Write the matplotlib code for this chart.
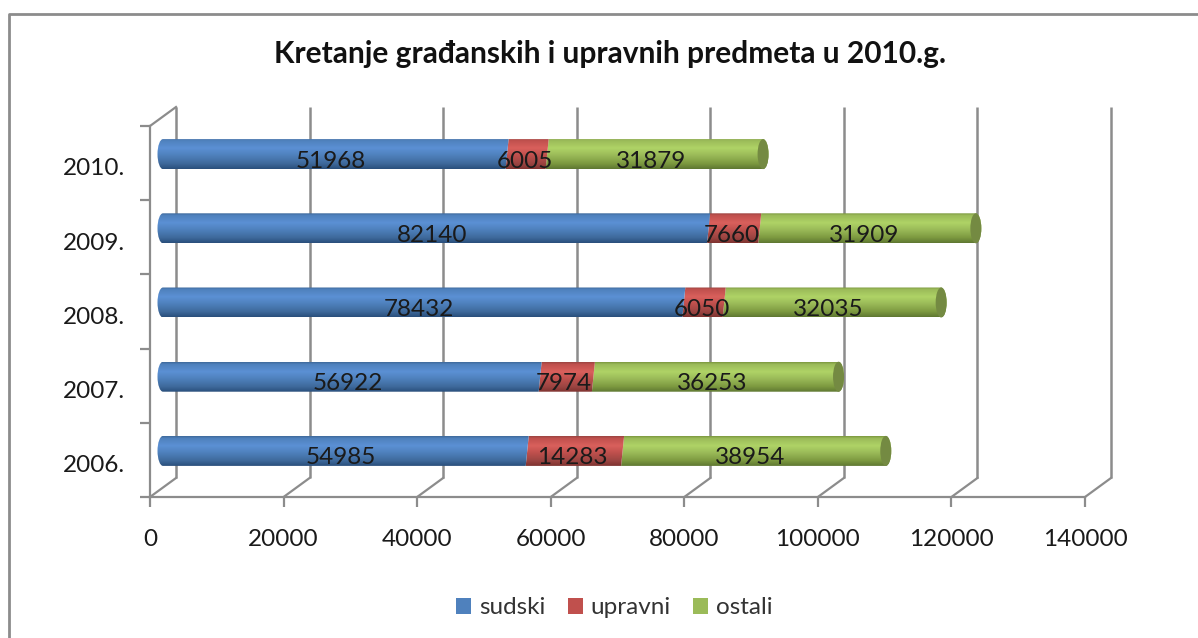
import numpy as np
import matplotlib
matplotlib.use("Agg")
import matplotlib.pyplot as plt
from matplotlib.path import Path
from matplotlib.patches import PathPatch, Ellipse, Rectangle
from matplotlib.lines import Line2D
from matplotlib.colors import LinearSegmentedColormap

years = ["2006.", "2007.", "2008.", "2009.", "2010."]
sudski = [54985, 56922, 78432, 82140, 51968]
upravni = [14283, 7974, 6050, 7660, 6005]
ostali = [38954, 36253, 32035, 31909, 31879]
series_names = ["sudski", "upravni", "ostali"]
x_ticks = [0, 20000, 40000, 60000, 80000, 100000, 120000, 140000]
title = "Kretanje građanskih i upravnih predmeta u 2010.g."

FONT = "Lato"
W, H = 1198, 638
fig = plt.figure(figsize=(W / 100, H / 100), dpi=100, facecolor="white")
plt.rcParams["font.family"] = FONT


def rect(l, t, r, b):
    return [l / W, 1 - b / H, (r - l) / W, (b - t) / H]


GRID = "#8c8c8c"
TXT = "#1a1a1a"
XMAX = 140000
# front plane
ax = fig.add_axes(rect(150, 126, 1085, 497))
ax.set_xlim(0, XMAX)
ax.set_ylim(0, 5)
ax.patch.set_alpha(0)
for s in ["top", "right"]:
    ax.spines[s].set_visible(False)
for s in ["left", "bottom"]:
    ax.spines[s].set_color(GRID)
    ax.spines[s].set_linewidth(1.6)
ax.set_xticks(x_ticks)
ax.set_xticklabels([str(v) for v in x_ticks], fontsize=17.5, color=TXT)
ax.set_yticks(range(6))
ax.set_yticklabels([])
ax.set_yticks(np.arange(5) + 0.45, labels=years, minor=True, fontsize=17.5, color=TXT)
ax.tick_params(axis="both", which="major", length=7, width=1.6, color=GRID)
ax.tick_params(axis="y", which="minor", length=0, pad=18)
ax.tick_params(axis="x", pad=16)

# back wall, shifted by the depth of the 3-D box
back = fig.add_axes(rect(176, 107, 1111, 478), zorder=-1)
back.set_xlim(0, XMAX)
back.set_ylim(0, 5)
back.axis("off")
for v in x_ticks:
    back.plot([v, v], [0, 5], color=GRID, lw=1.8, clip_on=False, solid_capstyle="butt")
# depth lines joining the front plane to the back wall
for v in x_ticks:
    p0 = ax.transData.transform((v, 0))
    p1 = back.transData.transform((v, 0))
    fig.add_artist(Line2D([p0[0] / W, p1[0] / W], [p0[1] / H, p1[1] / H], color=GRID, lw=1.6, zorder=-1))
p0 = ax.transData.transform((0, 5))
p1 = back.transData.transform((0, 5))
fig.add_artist(Line2D([p0[0] / W, p1[0] / W], [p0[1] / H, p1[1] / H], color=GRID, lw=1.6, zorder=-1))

# mid plane, holds the cylinders
mid = fig.add_axes(rect(163, 117, 1098, 488), zorder=3)
mid.set_xlim(0, XMAX)
mid.set_ylim(0, 5)
mid.axis("off")

PX = XMAX / 935
BAR_H = 30 / (371 / 5)
RX = 5.5 * PX
SLANT_TOP = 1.5 * PX
SLANT_BOT = 4.5 * PX
STYLES = {
    "sudski": ("#3f6a9c", "#4f81bd", "#5b90d4", "#2a4f7c", "#3f6797"),
    "upravni": ("#9c4542", "#c0504d", "#d9605c", "#7f3330", "#984340"),
    "ostali": ("#7d9a40", "#9bbb59", "#afd366", "#5f7832", "#748a42"),
}
K = 0.5522847


def cylinder_path(x0, x1, yc, first, last):
    t, b = yc + BAR_H / 2, yc - BAR_H / 2
    ry = BAR_H / 2
    # inner joints lean slightly, following the curve of the cylinder
    x0b, x0t = (x0, x0) if first else (x0 - SLANT_BOT, x0 - SLANT_TOP)
    v = [(x0b, b)]
    c = [Path.MOVETO]
    if last:
        v += [(x1, b), (x1 + K * RX, b), (x1 + RX, yc - K * ry), (x1 + RX, yc),
              (x1 + RX, yc + K * ry), (x1 + K * RX, t), (x1, t)]
        c += [Path.LINETO] + [Path.CURVE4] * 6
    else:
        v += [(x1 - SLANT_BOT, b), (x1 - SLANT_TOP, t)]
        c += [Path.LINETO, Path.LINETO]
    v += [(x0t, t)]
    c += [Path.LINETO]
    if first:
        v += [(x0 - K * RX, t), (x0 - RX, yc + K * ry), (x0 - RX, yc),
              (x0 - RX, yc - K * ry), (x0 - K * RX, b), (x0, b)]
        c += [Path.CURVE4] * 6
    else:
        v += [(x0b, b)]
        c += [Path.LINETO]
    return Path(v, c)


series = {"sudski": sudski, "upravni": upravni, "ostali": ostali}
starts = {"sudski": np.zeros(5),
          "upravni": np.array(sudski, float),
          "ostali": np.array(sudski, float) + np.array(upravni, float)}

for z, name in enumerate(reversed(series_names)):
    top, main, light, dark, cap = STYLES[name]
    cmap = LinearSegmentedColormap.from_list(
        name, [(0, dark), (0.18, top), (0.45, main), (0.68, light), (0.93, main), (1, top)])
    grad = np.linspace(0, 1, 64).reshape(-1, 1)
    for i, val in enumerate(series[name]):
        x0 = starts[name][i]
        x1 = x0 + val
        yc = i + 0.5
        im = mid.imshow(grad, cmap=cmap, origin="lower", aspect="auto", zorder=2 + z,
                        extent=[x0 - 2 * RX, x1 + RX, yc - BAR_H / 2, yc + BAR_H / 2])
        pp = PathPatch(cylinder_path(x0, x1, yc, name == "sudski", name == "ostali"),
                       transform=mid.transData, fc="none", ec="none", clip_on=False)
        mid.add_patch(pp)
        im.set_clip_box(fig.bbox)
        im.set_clip_path(pp)
        if name == "ostali":
            mid.add_patch(Ellipse((x1, yc), 2 * RX, BAR_H, fc=cap, ec="none", zorder=2 + z + 0.5))
mid.set_xlim(0, XMAX)
mid.set_ylim(0, 5)

# value labels
for name in series_names:
    for i, val in enumerate(series[name]):
        mid.annotate(str(val), (starts[name][i] + val / 2, i + 0.5), xytext=(-5.5, -7),
                     textcoords="offset pixels", ha="center", va="center",
                     fontsize=17.5, color=TXT, zorder=20, annotation_clip=False)

fig.text(610.5 / W, 1 - 54 / H, title, ha="center", va="center", fontsize=21.5, fontweight="bold", color="#111111")

# legend
handles = [Rectangle((0, 0), 1, 1, fc=STYLES[n][1], ec="none") for n in series_names]
fig.legend(handles, series_names, loc="center", bbox_to_anchor=(614.5 / W, 1 - 608 / H), ncol=3, frameon=False,
           fontsize=17.5, labelcolor="#333333", handlelength=0.62, handleheight=0.62,
           handletextpad=0.33, columnspacing=0.9)

# outer frame (left and top visible)
fig.add_artist(Line2D([9 / W, 9 / W, 1], [0, 1 - 13.5 / H, 1 - 13.5 / H], color="#8c8c8c", lw=2))

fig.savefig("out.png", dpi=100)
